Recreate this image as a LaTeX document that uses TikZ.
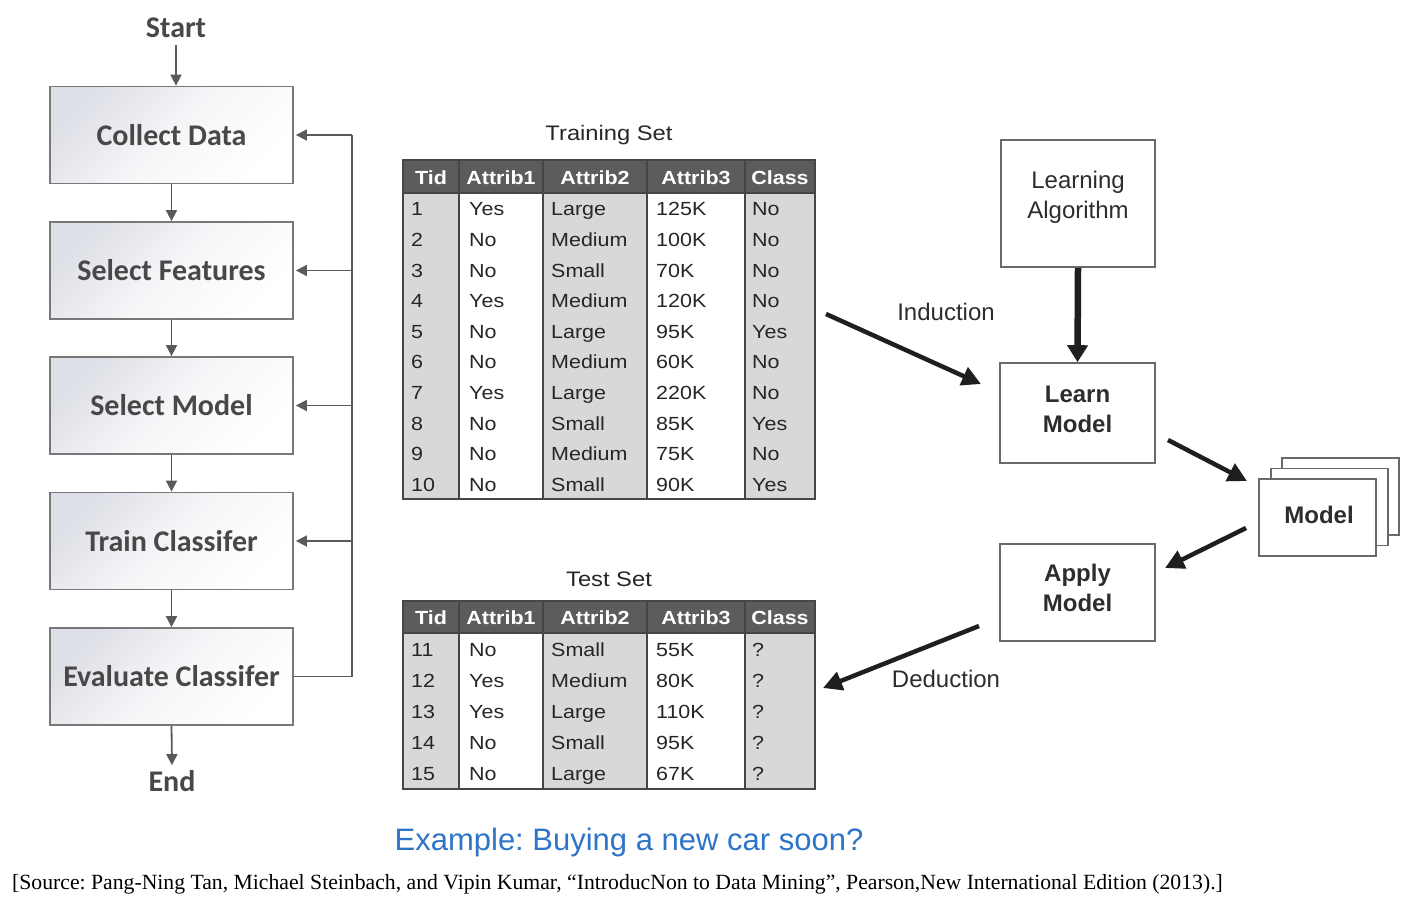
\documentclass[tikz,border=0pt]{standalone}
\usepackage{fontspec}
\setmainfont{Liberation Sans}
\newfontfamily\calfont{Carlito}
\newfontfamily\tabfont[FakeStretch=1.13]{Liberation Sans}
\newfontfamily\srcfont{Liberation Serif}
\usetikzlibrary{arrows.meta}
\definecolor{flowtext}{RGB}{72,72,72}
\definecolor{flowline}{RGB}{90,90,90}
\definecolor{boxline}{RGB}{120,120,120}
\definecolor{boxgray}{RGB}{222,224,231}
\definecolor{boxmid}{RGB}{245,246,248}
\definecolor{tabhead}{RGB}{92,92,92}
\definecolor{tabgray}{RGB}{216,216,218}
\definecolor{tabline}{RGB}{70,70,70}
\definecolor{rline}{RGB}{105,105,105}
\definecolor{rtext}{RGB}{45,45,45}
\definecolor{capblue}{RGB}{46,117,200}
\frenchspacing
\begin{document}
\begin{tikzpicture}[x=1pt,y=-1pt,
  flowbox/.style={draw=boxline, line width=1.8pt, top color=boxgray, bottom color=white, middle color=boxmid, shading angle=45,
    minimum width=243pt, minimum height=97pt, inner sep=0pt,
    font=\calfont\bfseries\fontsize{30}{36}\selectfont, text=flowtext},
  flowlabel/.style={font=\calfont\bfseries\fontsize{30}{36}\selectfont, text=flowtext, inner sep=0pt},
  flowarrow/.style={draw=flowline, line width=1.8pt, -{Triangle[length=11pt,width=11pt]}},
  flowline/.style={draw=flowline, line width=1.8pt},
  tabrule/.style={draw=tabline, line width=1.8pt},
  cell/.style={anchor=west, inner sep=0pt, text height=18pt, text depth=4pt,
    font=\tabfont\fontsize{19}{22}\selectfont, text=black!85},
  hcell/.style={inner sep=0pt, text height=18pt, text depth=4pt,
    font=\tabfont\bfseries\fontsize{19}{22}\selectfont, text=white},
  tabtitle/.style={inner sep=0pt, font=\tabfont\fontsize{21}{25}\selectfont, text=black!85},
  rbox/.style={draw=rline, line width=1.6pt, fill=white, inner sep=0pt},
  rtextn/.style={inner sep=0pt, align=center, font=\fontsize{24}{30}\selectfont, text=rtext},
  rtextb/.style={rtextn, font=\bfseries\fontsize{24}{30}\selectfont},
  bigarrow/.style={draw=black!88, line width=4.5pt, -{Triangle[length=19pt,width=19pt]}},
  vbigarrow/.style={draw=black!88, line width=6.5pt, -{Triangle[length=17pt,width=20pt]}}
]
\useasboundingbox[fill=white] (0,0) rectangle (1420,906);

% ---------------- left flowchart ----------------
\node[flowlabel] (start) at (176,28) {Start};
\node[flowbox] (cd) at (171.5,135) {Collect Data};
\node[flowbox] (sf) at (171.5,270.5) {Select Features};
\node[flowbox] (sm) at (171.5,405.5) {Select Model};
\node[flowbox] (tc) at (171.5,541) {Train Classifer};
\node[flowbox] (ec) at (171.5,676.5) {Evaluate Classifer};
\node[flowlabel] (end) at (172,781) {End};

\draw[flowarrow] (start.south) ++(0,7) -- (start.south |- cd.north);
\draw[flowarrow] (cd) -- (sf);
\draw[flowarrow] (sf) -- (sm);
\draw[flowarrow] (sm) -- (tc);
\draw[flowarrow] (tc) -- (ec);
\draw[flowarrow] (ec.south) -- ([yshift=5pt]end.north);

\coordinate (fb) at (352,0);
\draw[flowline] (ec.east) -- (fb |- ec.east) -- (fb |- cd.east);
\draw[flowarrow] (fb |- cd.east) -- ([xshift=2pt]cd.east);
\draw[flowarrow] (fb |- sf.east) -- ([xshift=2pt]sf.east);
\draw[flowarrow] (fb |- sm.east) -- ([xshift=2pt]sm.east);
\draw[flowarrow] (fb |- tc.east) -- ([xshift=2pt]tc.east);

% ---------------- training table ----------------
\node[tabtitle] (trtitle) at (609,135) {Training Set};
\fill[tabhead] (403,160) rectangle (815,193);
\fill[tabgray] (403,193) rectangle (459,499);
\fill[tabgray] (543,193) rectangle (647,499);
\fill[tabgray] (745,193) rectangle (815,499);
\draw[tabrule] (403,160) rectangle (815,499);
\draw[tabrule] (403,193) -- (815,193);
\foreach \x in {459,543,647,745} \draw[tabrule] (\x,160) -- (\x,499);
\foreach \h/\x [count=\j] in {Tid/431,Attrib1/501,Attrib2/595,Attrib3/696,Class/780}
  \node[hcell] (trh\j) at (\x,177) {\h};
\foreach \t/\a/\b/\c/\d [count=\i] in {1/Yes/Large/125K/No, 2/No/Medium/100K/No, 3/No/Small/70K/No,
  4/Yes/Medium/120K/No, 5/No/Large/95K/Yes, 6/No/Medium/60K/No, 7/Yes/Large/220K/No,
  8/No/Small/85K/Yes, 9/No/Medium/75K/No, 10/No/Small/90K/Yes} {
  \pgfmathsetmacro\yy{193.5+(\i-0.5)*30.6}
  \node[cell] (tr\i a) at (411,\yy) {\t};
  \node[cell] (tr\i b) at (469,\yy) {\a};
  \node[cell] (tr\i c) at (551,\yy) {\b};
  \node[cell] (tr\i d) at (656,\yy) {\c};
  \node[cell] (tr\i e) at (752,\yy) {\d};
}

% ---------------- test table ----------------
\node[tabtitle] (tetitle) at (609,579) {Test Set};
\fill[tabhead] (403,601) rectangle (815,633);
\fill[tabgray] (403,633) rectangle (459,789);
\fill[tabgray] (543,633) rectangle (647,789);
\fill[tabgray] (745,633) rectangle (815,789);
\draw[tabrule] (403,601) rectangle (815,789);
\draw[tabrule] (403,633) -- (815,633);
\foreach \x in {459,543,647,745} \draw[tabrule] (\x,601) -- (\x,789);
\foreach \h/\x [count=\j] in {Tid/431,Attrib1/501,Attrib2/595,Attrib3/696,Class/780}
  \node[hcell] (teh\j) at (\x,617.5) {\h};
\foreach \t/\a/\b/\c/\d [count=\i] in {11/No/Small/55K/?, 12/Yes/Medium/80K/?, 13/Yes/Large/110K/?,
  14/No/Small/95K/?, 15/No/Large/67K/?} {
  \pgfmathsetmacro\yy{633.5+(\i-0.5)*31.2}
  \node[cell] (te\i a) at (411,\yy) {\t};
  \node[cell] (te\i b) at (469,\yy) {\a};
  \node[cell] (te\i c) at (551,\yy) {\b};
  \node[cell] (te\i d) at (656,\yy) {\c};
  \node[cell] (te\i e) at (752,\yy) {\d};
}

% ---------------- right side ----------------
\node[rbox, minimum width=154pt, minimum height=127pt] (la) at (1078,203.5) {};
\node[rtextn] (la-t) at (1078,197) {Learning\\Algorithm};
\node[rbox, minimum width=155pt, minimum height=100pt] (lm) at (1077.5,413) {};
\node[rtextb] (lm-t) at (1077.5,409) {Learn\\Model};
\node[rbox, minimum width=155pt, minimum height=97pt] (am) at (1077.5,592.5) {};
\node[rtextb] (am-t) at (1077.5,588) {Apply\\Model};
\node[rbox, minimum width=117pt, minimum height=77pt] (m3) at (1340.5,496.5) {};
\node[rbox, minimum width=117pt, minimum height=77pt] (m2) at (1329.5,507) {};
\node[rbox, minimum width=117pt, minimum height=77pt] (model) at (1317.5,517.5) {};
\node[rtextb] (model-t) at (1319,514.5) {Model};

\draw[vbigarrow] (la.south) -- (lm.north);

\coordinate (indS) at (826,314);
\coordinate (indE) at (981,384);
\coordinate (lmS) at (1168,440);
\coordinate (lmE) at (1247,481);
\coordinate (mdS) at (1246,528);
\coordinate (mdE) at (1165,568);
\coordinate (dedS) at (979,626);
\coordinate (dedE) at (823,688);
\draw[bigarrow] (indS) -- (indE);
\draw[bigarrow] (lmS) -- (lmE);
\draw[bigarrow] (mdS) -- (mdE);
\draw[bigarrow] (dedS) -- (dedE);
\node[rtextn] (ind) at (946,312) {Induction};
\node[rtextn] (ded) at (946,679) {Deduction};

% ---------------- captions ----------------
\node[inner sep=0pt, font=\fontsize{31}{36}\selectfont, text=capblue] (cap) at (629,842) {Example: Buying a new car soon?};
\node[anchor=west, inner sep=0pt, font=\srcfont\fontsize{21.7}{25}\selectfont, text=black] (src) at (12,884)
  {[Source: Pang-Ning Tan, Michael Steinbach, and Vipin Kumar, “IntroducNon to Data Mining”, Pearson,New International Edition (2013).]};
\end{tikzpicture}
\end{document}
